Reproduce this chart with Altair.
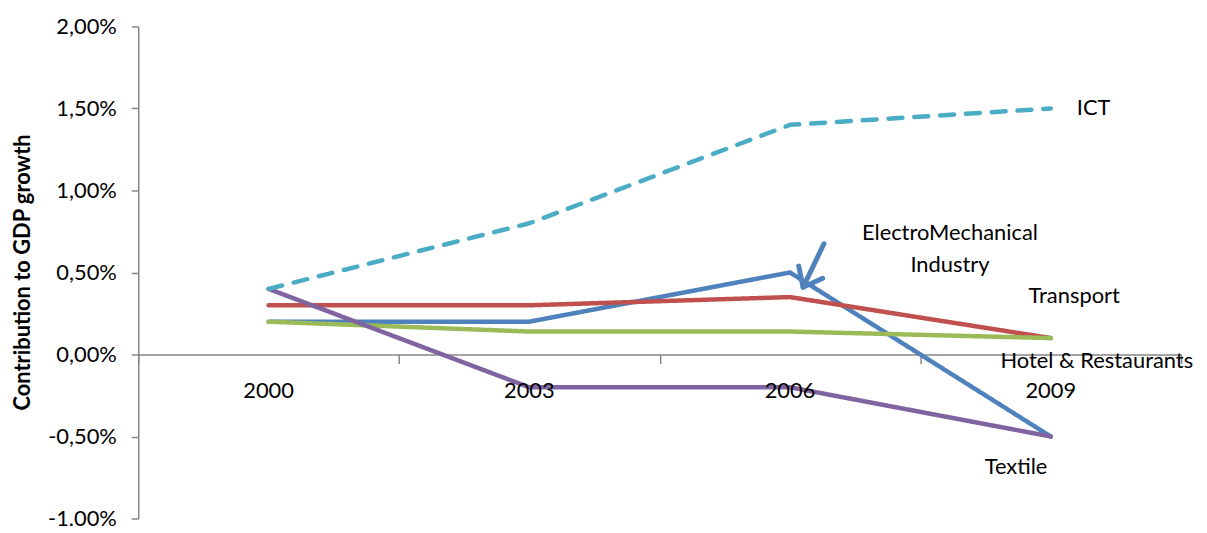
import altair as alt
import pandas as pd

years = [2000, 2003, 2006, 2009]
series_names = ["ElectroMechanical Industry", "Transport", "Hotel & Restaurants", "Textile", "ICT"]
electro = [0.20, 0.20, 0.50, -0.50]
transport = [0.30, 0.30, 0.35, 0.10]
hotel = [0.20, 0.14, 0.14, 0.10]
textile = [0.40, -0.20, -0.20, -0.50]
ict = [0.40, 0.80, 1.40, 1.50]
colors = ["#4F81BD", "#C0504D", "#9BBB59", "#8064A2", "#4BACC6"]
dashes = [[1, 0], [1, 0], [1, 0], [1, 0], [14, 12]]

y_ticks = [-1.0, -0.5, 0.0, 0.5, 1.0, 1.5, 2.0]
x_ticks = [1998.5, 2001.5, 2004.5, 2007.5, 2010.5]

# annotations (data units)
ann_text = ["ICT", "ElectroMechanical", "Industry", "Transport", "Hotel & Restaurants", "Textile"]
ann_x = [2009.3, 2007.84, 2007.84, 2009.27, 2009.53, 2008.6]
ann_y = [1.50, 0.74, 0.545, 0.355, -0.04, -0.685]
ann_align = ["left", "center", "center", "center", "center", "center"]

arrow_x = [2006.39]
arrow_y = [0.675]
arrow_x2 = [2006.15]
arrow_y2 = [0.41]

FONT = "Lato"
FS = 22

rows = []
for name, vals in zip(series_names, [electro, transport, hotel, textile, ict]):
    for yr, v in zip(years, vals):
        rows.append({"series": name, "year": yr, "value": v})
df = pd.DataFrame(rows)

xscale = alt.Scale(domain=[1998.5, 2010.5], nice=False, zero=False)
yscale = alt.Scale(domain=[-1.0, 2.0], nice=False)

label_expr = ("datum.value == -1 ? '-1.00%' : "
              "replace(replace(format(datum.value, '.2f'), '.', ','), '\u2212', '-') + '%'")

lines = alt.Chart(df).mark_line(strokeWidth=4.5, strokeCap="round", strokeJoin="round").encode(
    x=alt.X("year:Q", scale=xscale,
            axis=alt.Axis(values=x_ticks, labels=False, title=None, offset=-165,
                          domainColor="#868686", tickColor="#868686", tickSize=9,
                          domainWidth=1.5, tickWidth=1.5, grid=False)),
    y=alt.Y("value:Q", scale=yscale,
            axis=alt.Axis(values=y_ticks, labelExpr=label_expr, grid=False,
                          title="Contribution to GDP growth",
                          titleFont=FONT, titleFontSize=22, titleFontWeight="bold",
                          titleColor="black", titleX=-116, titleY=247,
                          titleAlign="center", titleBaseline="middle", titleAngle=-90,
                          labelFont=FONT, labelFontSize=FS, labelColor="black",
                          labelPadding=15, tickSize=7,
                          domainColor="#868686", tickColor="#868686",
                          domainWidth=1.5, tickWidth=1.5)),
    color=alt.Color("series:N", scale=alt.Scale(domain=series_names, range=colors), legend=None),
    strokeDash=alt.StrokeDash("series:N", scale=alt.Scale(domain=series_names, range=dashes), legend=None),
    detail="series:N",
)

year_df = pd.DataFrame({"year": years, "zero": [0.0] * len(years), "label": [str(y) for y in years]})
year_labels = alt.Chart(year_df).mark_text(font=FONT, fontSize=FS, color="black", dy=37,
                                           baseline="middle").encode(
    x=alt.X("year:Q", scale=xscale),
    y=alt.Y("zero:Q", scale=yscale),
    text="label:N",
)

ann_df = pd.DataFrame({"text": ann_text, "x": ann_x, "y": ann_y, "align": ann_align})
ann_left = alt.Chart(ann_df[ann_df["align"] == "left"]).mark_text(
    font=FONT, fontSize=FS, color="black", align="left", baseline="middle").encode(
    x=alt.X("x:Q", scale=xscale), y=alt.Y("y:Q", scale=yscale), text="text:N")
ann_center = alt.Chart(ann_df[ann_df["align"] == "center"]).mark_text(
    font=FONT, fontSize=FS, color="black", align="center", baseline="middle").encode(
    x=alt.X("x:Q", scale=xscale), y=alt.Y("y:Q", scale=yscale), text="text:N")

arrow_df = pd.DataFrame({"x": arrow_x, "y": arrow_y, "x2": arrow_x2, "y2": arrow_y2})
arrow_shaft = alt.Chart(arrow_df).mark_rule(color="#4F81BD", strokeWidth=5, strokeCap="round").encode(
    x=alt.X("x:Q", scale=xscale), y=alt.Y("y:Q", scale=yscale),
    x2="x2:Q", y2="y2:Q")
arrow_head = alt.Chart(arrow_df).mark_point(
    shape="M -0.8 -1 L 0 0 L 0.8 -1", filled=False, stroke="#4F81BD", strokeWidth=5,
    strokeCap="round", strokeJoin="round", size=1150, angle=27, opacity=1).encode(
    x=alt.X("x2:Q", scale=xscale), y=alt.Y("y2:Q", scale=yscale))

chart = alt.layer(lines, year_labels, ann_left, ann_center, arrow_shaft, arrow_head).properties(
    width=1049, height=495,
    background="white",
    autosize=alt.AutoSizeParams(type="none"),
    padding={"left": 131, "top": 17, "right": 18, "bottom": 10},
).configure_view(stroke=None)

chart.save("out.html", embed_options={"renderer": "svg", "actions": False})
